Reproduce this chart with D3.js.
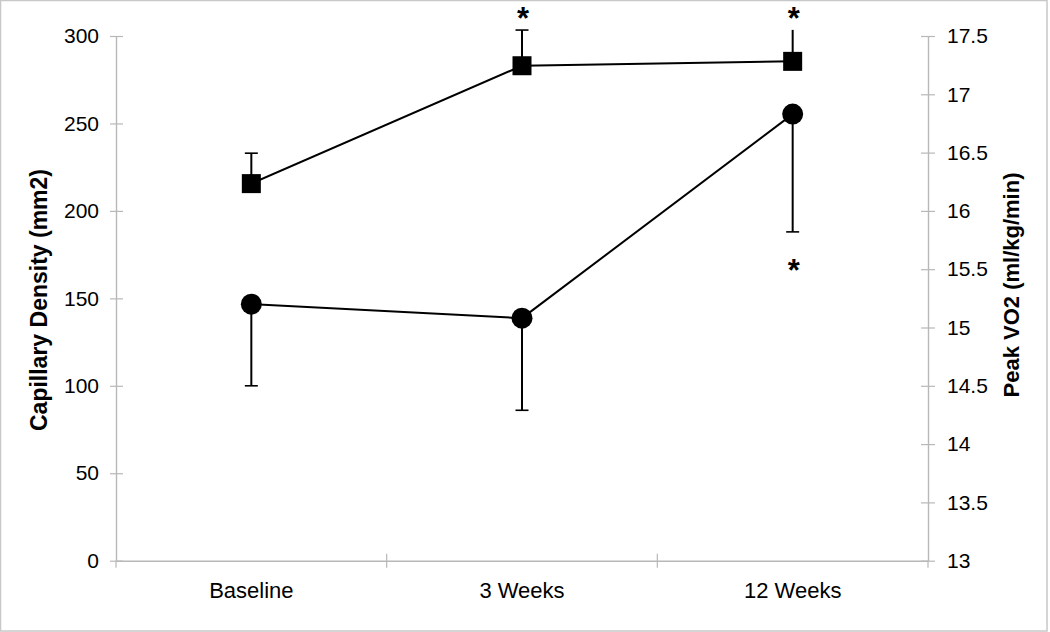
<!DOCTYPE html>
<html>
<head>
<meta charset="utf-8">
<script src="https://cdn.jsdelivr.net/npm/d3@7"></script>
<style>
  html, body { margin: 0; padding: 0; background: #fff; }
  svg { display: block; }
  text { font-family: "Liberation Sans", Arial, Helvetica, sans-serif; fill: #000; }
</style>
</head>
<body>
<script>
// ---- data ----
const categories = ["Baseline", "3 Weeks", "12 Weeks"];
// Capillary density (left axis) — squares, error bars upward
const capillaryDensity = [215.6, 283.0, 285.5];
const capillaryErrUp = [17.4, 20.4, 18.0];
// Peak VO2 (right axis) — circles, error bars downward
const peakVO2 = [15.20, 15.08, 16.83];
const peakVO2ErrDown = [0.70, 0.79, 1.01];
const leftTicks = [0, 50, 100, 150, 200, 250, 300];
const rightTicks = [13, 13.5, 14, 14.5, 15, 15.5, 16, 16.5, 17, 17.5];
// significance markers
const sigMarks = [
  {cat: "3 Weeks", series: "cap", pos: "above"},
  {cat: "12 Weeks", series: "cap", pos: "above"},
  {cat: "12 Weeks", series: "vo2", pos: "below"}
];

// ---- layout ----
const W = 1050, H = 632;
const plot = {left: 116, right: 928, top: 36, bottom: 560.7};
const axisColor = "#b8b8b8";

const svg = d3.select("body").append("svg").attr("width", W).attr("height", H);

// outer frame
svg.append("rect").attr("x", 0.5).attr("y", 0.5).attr("width", 1046.5).attr("height", 630.5)
  .attr("fill", "none").attr("stroke", "#c8c8c8").attr("stroke-width", 1.5);

const x = d3.scaleBand().domain(categories).range([plot.left, plot.right]);
const yL = d3.scaleLinear().domain([0, 300]).range([plot.bottom, plot.top]);
const yR = d3.scaleLinear().domain([13, 17.5]).range([plot.bottom, plot.top]);
const cx = c => x(c) + x.bandwidth() / 2;

// left axis
const gL = svg.append("g").attr("transform", `translate(${plot.left},0)`)
  .call(d3.axisLeft(yL).tickValues(leftTicks).tickSizeInner(6).tickSizeOuter(0).tickPadding(11));
gL.selectAll(".tick line").attr("x2", 7).attr("x1", -6);
// right axis
const gR = svg.append("g").attr("transform", `translate(${plot.right},0)`)
  .call(d3.axisRight(yR).tickValues(rightTicks).tickFormat(d3.format("")).tickSizeInner(7).tickSizeOuter(0).tickPadding(12));
gR.selectAll(".tick line").attr("x1", -7).attr("x2", 7);
// x axis
const gX = svg.append("g").attr("transform", `translate(0,${plot.bottom})`)
  .call(d3.axisBottom(x).tickSize(0).tickPadding(22));
gX.selectAll(".tick text").attr("font-size", 22);
// x axis separator ticks between categories
const boundaries = categories.slice(1).map(c => x(c));
gX.selectAll(".sep").data(boundaries).enter().append("line")
  .attr("x1", d => d).attr("x2", d => d).attr("y1", -7).attr("y2", 7)
  .attr("stroke", axisColor).attr("stroke-width", 1.2);
// extend y axes slightly below x axis
[plot.left, plot.right].forEach(px => svg.append("line")
  .attr("x1", px).attr("x2", px).attr("y1", plot.bottom).attr("y2", plot.bottom + 7)
  .attr("stroke", axisColor).attr("stroke-width", 1.2));

[gL, gR, gX].forEach(g => {
  g.selectAll(".domain").attr("stroke", axisColor).attr("stroke-width", 1.4);
  g.selectAll(".tick line").attr("stroke", axisColor).attr("stroke-width", 1.2);
  g.selectAll("text").attr("font-family", "'Liberation Sans', Arial, sans-serif").attr("fill", "#000");
});
gL.selectAll(".tick text").attr("font-size", 21);
gR.selectAll(".tick text").attr("font-size", 21);

// axis titles
svg.append("text").attr("transform", `translate(47,300) rotate(-90)`)
  .attr("text-anchor", "middle").attr("font-size", 23).attr("font-weight", "bold")
  .text("Capillary Density (mm2)");
svg.append("text").attr("transform", `translate(1019,285) rotate(-90)`)
  .attr("text-anchor", "middle").attr("font-size", 22).attr("font-weight", "bold")
  .text("Peak VO2 (ml/kg/min)");

const ink = "#000";
const capW = 13;

// ---- Capillary density series (squares) ----
const capPts = categories.map((c, i) => ({c, v: capillaryDensity[i], e: capillaryErrUp[i], i}));
svg.append("path").datum(capPts)
  .attr("d", d3.line().x(d => cx(d.c)).y(d => yL(d.v)))
  .attr("fill", "none").attr("stroke", ink).attr("stroke-width", 2);
const capErr = svg.append("g");
capPts.forEach(d => {
  capErr.append("line").attr("x1", cx(d.c)).attr("x2", cx(d.c))
    .attr("y1", yL(d.v)).attr("y2", yL(d.v + d.e)).attr("stroke", ink).attr("stroke-width", 2);
  if (d.i < 2) {
    capErr.append("line").attr("x1", cx(d.c) - capW / 2).attr("x2", cx(d.c) + capW / 2)
      .attr("y1", yL(d.v + d.e)).attr("y2", yL(d.v + d.e)).attr("stroke", ink).attr("stroke-width", 1.6);
  }
});
const sq = 19;
svg.selectAll(".sq").data(capPts).enter().append("rect")
  .attr("x", d => cx(d.c) - sq / 2).attr("y", d => yL(d.v) - sq / 2)
  .attr("width", sq).attr("height", sq).attr("fill", ink);

// ---- Peak VO2 series (circles) ----
const vo2Pts = categories.map((c, i) => ({c, v: peakVO2[i], e: peakVO2ErrDown[i]}));
svg.append("path").datum(vo2Pts)
  .attr("d", d3.line().x(d => cx(d.c)).y(d => yR(d.v)))
  .attr("fill", "none").attr("stroke", ink).attr("stroke-width", 2);
vo2Pts.forEach(d => {
  svg.append("line").attr("x1", cx(d.c)).attr("x2", cx(d.c))
    .attr("y1", yR(d.v)).attr("y2", yR(d.v - d.e)).attr("stroke", ink).attr("stroke-width", 2);
  svg.append("line").attr("x1", cx(d.c) - capW / 2).attr("x2", cx(d.c) + capW / 2)
    .attr("y1", yR(d.v - d.e)).attr("y2", yR(d.v - d.e)).attr("stroke", ink).attr("stroke-width", 1.6);
});
svg.selectAll(".dot").data(vo2Pts).enter().append("circle")
  .attr("cx", d => cx(d.c)).attr("cy", d => yR(d.v)).attr("r", 10.5).attr("fill", ink);

// ---- significance asterisks ----
sigMarks.forEach(m => {
  const i = categories.indexOf(m.cat);
  let yPos;
  if (m.series === "cap") yPos = yL(capillaryDensity[i] + capillaryErrUp[i]) - 1;
  else yPos = yR(peakVO2[i] - peakVO2ErrDown[i]) + 49;
  svg.append("text").attr("x", cx(m.cat) + 1).attr("y", yPos)
    .attr("text-anchor", "middle").attr("font-size", 31).attr("font-weight", "bold")
    .text("*");
});
</script>
</body>
</html>
